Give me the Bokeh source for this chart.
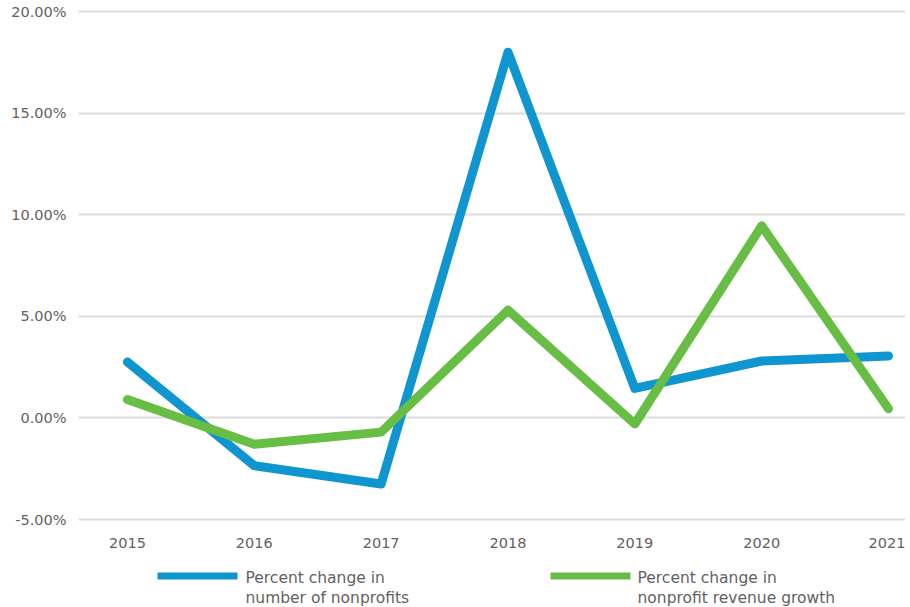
from bokeh.plotting import figure
from bokeh.models import FixedTicker, Range1d
from bokeh.layouts import column
from bokeh.core.properties import value
from bokeh.embed import file_html
from bokeh.resources import INLINE

years = [2015, 2016, 2017, 2018, 2019, 2020, 2021]
nonprofits_change = [2.75, -2.35, -3.25, 18.0, 1.45, 2.8, 3.05]
revenue_change = [0.9, -1.3, -0.7, 5.3, -0.3, 9.45, 0.45]
y_ticks = [-5, 0, 5, 10, 15, 20]
y_tick_labels = ["-5.00%", "0.00%", "5.00%", "10.00%", "15.00%", "20.00%"]
legend_line1 = ["Percent change in", "Percent change in"]
legend_line2 = ["number of nonprofits", "nonprofit revenue growth"]

FONT = "DejaVu Sans"
TEXT = "#626262"
BLUE = "#0f95d0"
GREEN = "#68bd45"
W = 905
LEFT = 78

p = figure(width=W, height=565, output_backend="svg", toolbar_location=None,
           x_range=Range1d(2014.614, 2021.134), y_range=Range1d(-5.295, 20.148),
           min_border_left=LEFT, min_border_right=0, min_border_top=8, min_border_bottom=40)
p.outline_line_color = None
p.background_fill_color = "white"
p.border_fill_color = "white"

p.line(years, nonprofits_change, line_color=BLUE, line_width=9,
       line_cap="round", line_join="round")
p.line(years, revenue_change, line_color=GREEN, line_width=9,
       line_cap="round", line_join="round")

p.xgrid.grid_line_color = None
p.ygrid.ticker = FixedTicker(ticks=y_ticks)
p.ygrid.grid_line_color = "#dcdcdc"
p.ygrid.grid_line_width = 2

p.yaxis.ticker = FixedTicker(ticks=y_ticks)
p.yaxis.major_label_overrides = {t: l for t, l in zip(y_ticks, y_tick_labels)}
p.xaxis.ticker = FixedTicker(ticks=years)
p.xaxis.major_label_overrides = {y: str(y) for y in years}
for ax in (p.xaxis, p.yaxis):
    ax.axis_line_color = None
    ax.major_tick_line_color = None
    ax.minor_tick_line_color = None
    ax.major_label_text_font = FONT
    ax.major_label_text_font_size = "14.5px"
    ax.major_label_text_color = TEXT
p.yaxis.major_label_standoff = 6
p.xaxis.major_label_standoff = 6

# legend strip (its frame is aligned with the chart frame; coordinates are page pixels)
lg = figure(width=W, height=41, output_backend="svg", toolbar_location=None,
            x_range=Range1d(LEFT, W), y_range=Range1d(606, 565),
            min_border_left=LEFT, min_border_right=0, min_border_top=0, min_border_bottom=0)
lg.axis.visible = False
lg.grid.visible = False
lg.outline_line_color = None
lg.background_fill_color = "white"
lg.border_fill_color = "white"

sw_x0 = [157, 550]
sw_x1 = [237, 630]
sw_y = [575.5, 575.5]
lg.segment(x0=sw_x0, y0=sw_y, x1=sw_x1, y1=sw_y, line_color=[BLUE, GREEN],
           line_width=7, line_cap="butt")
txt_x = [245, 245, 637, 637]
txt_y = [577, 597, 577, 597]
lg.text(x=txt_x, y=txt_y,
        text=[legend_line1[0], legend_line2[0], legend_line1[1], legend_line2[1]],
        text_font=value(FONT), text_font_size="15.5px", text_color=TEXT,
        text_baseline="middle", text_align="left")

layout = column(p, lg, spacing=0)
open("out.html", "w").write(file_html(layout, INLINE))
